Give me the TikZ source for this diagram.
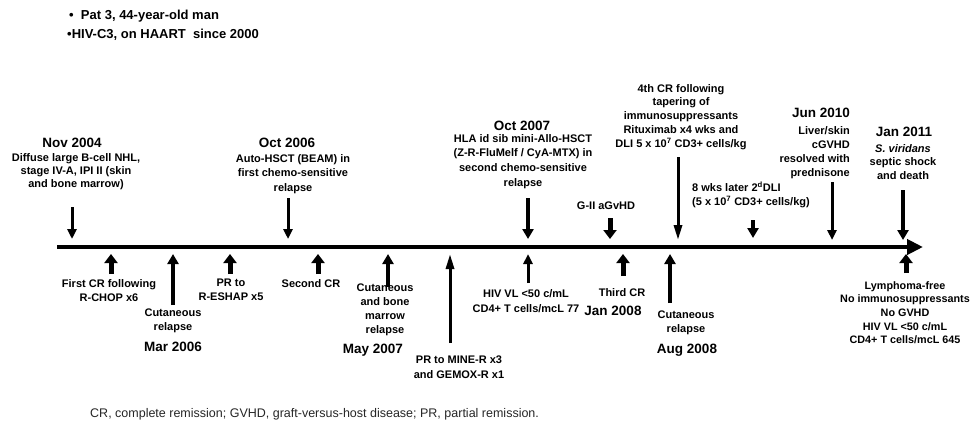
\documentclass[tikz,border=0pt]{standalone}
\usepackage{fontspec}
\setmainfont{Liberation Sans}
\usetikzlibrary{arrows.meta}
\begin{document}
\begin{tikzpicture}[x=1pt,y=-1pt,
  lab/.style={font=\bfseries\fontsize{11}{#1}\selectfont,align=center,inner sep=0pt,anchor=north},
  lab/.default=14,
  single/.style={font=\bfseries\fontsize{11}{13}\selectfont,inner sep=0pt,anchor=base},
  datelab/.style={font=\bfseries\fontsize{13.5}{16}\selectfont,inner sep=0pt,anchor=base},
  toptext/.style={font=\bfseries\fontsize{13}{15}\selectfont,inner sep=0pt,anchor=base west},
  foot/.style={font=\fontsize{12.5}{15}\selectfont,text=black!85,inner sep=0pt,anchor=base west},
  timeline/.style={line width=4pt,-{Triangle[width=15pt,length=16pt]}},
  arrA/.style={line width=3pt,-{Triangle[width=9pt,length=10pt]}},
  arrB/.style={line width=5pt,-{Triangle[width=13pt,length=9pt]}},
  arrC/.style={line width=4pt,-{Triangle[width=11pt,length=10pt]}},
  arrL/.style={line width=3pt,-{Triangle[width=8pt,length=15pt]}}
]
\useasboundingbox (0,0) rectangle (973,424);

% header
\node[toptext] (h1) at (69,19) {\textbullet\ \ Pat 3, 44-year-old man};
\node[toptext] (h2) at (67,38) {\textbullet HIV-C3, on HAART\ \ since 2000};

% timeline
\coordinate (tl0) at (57,247);
\coordinate (tl1) at (923,247);
\draw[timeline] (tl0) -- (tl1);

% ---------- events above the line ----------
\node[datelab] (nov04) at (72,147) {Nov 2004};
\node[lab=13] (nov04t) at (76,153) {Diffuse large B-cell NHL,\\stage IV-A, IPI II (skin\\and bone marrow)};
\coordinate (d1s) at (72,207); \coordinate (d1e) at (72,239);
\draw[arrA] (d1s) -- (d1e);

\node[datelab] (oct06) at (287,147) {Oct 2006};
\node[lab=14.5] (oct06t) at (293,154) {Auto-HSCT (BEAM) in\\first chemo-sensitive\\relapse};
\coordinate (d2s) at (288,198); \coordinate (d2e) at (288,239);
\draw[arrA] (d2s) -- (d2e);

\node[datelab] (oct07) at (522,130) {Oct 2007};
\node[lab=14.7] (oct07t) at (523,134) {HLA id sib mini-Allo-HSCT\\(Z-R-FluMelf / CyA-MTX) in\\second chemo-sensitive\\relapse};
\coordinate (d3s) at (528,198); \coordinate (d3e) at (528,239);
\draw[arrC] (d3s) -- (d3e);

\node[single] (gvhd) at (606,209) {G-II aGvHD};
\coordinate (d4s) at (610,218); \coordinate (d4e) at (610,239);
\draw[arrB] (d4s) -- (d4e);

\node[lab=13.75] (cr4) at (681,84) {4th CR following\\tapering of\\immunosuppressants\\Rituximab x4 wks and\\DLI 5 x 10\textsuperscript{7} CD3+ cells/kg};
\coordinate (d5s) at (678,157); \coordinate (d5e) at (678,240);
\draw[arrL] (d5s) -- (d5e);

\node[lab=14,align=left,anchor=north west] (dli2) at (692,182) {8 wks later 2\textsuperscript{d}DLI\\(5 x 10\textsuperscript{7} CD3+ cells/kg)};
\coordinate (d6s) at (753,220); \coordinate (d6e) at (753,238);
\draw[arrC] (d6s) -- (d6e);

\node[datelab,anchor=base east] (jun10) at (850,117) {Jun 2010};
\node[lab=14,align=right,anchor=north east] (jun10t) at (850,126) {Liver/skin\\cGVHD\\resolved with\\prednisone};
\coordinate (d7s) at (832,182); \coordinate (d7e) at (832,240);
\draw[arrA] (d7s) -- (d7e);

\node[datelab] (jan11) at (904,136) {Jan 2011};
\node[lab=13.5] (jan11t) at (903,144) {\textit{S. viridans}\\septic shock\\and death};
\coordinate (d8s) at (903,190); \coordinate (d8e) at (903,240);
\draw[arrC] (d8s) -- (d8e);

% ---------- events below the line ----------
\node[lab=14] (cr1) at (109,279) {First CR following\\R-CHOP x6};
\coordinate (u1s) at (111,274); \coordinate (u1e) at (111,254);
\draw[arrB] (u1s) -- (u1e);

\node[lab=14] (rel1) at (173,309) {Cutaneous\\relapse};
\node[datelab] (mar06) at (173,351) {Mar 2006};
\coordinate (u2s) at (173,305); \coordinate (u2e) at (173,254);
\draw[arrC] (u2s) -- (u2e);

\node[lab=14] (pr1) at (231,279) {PR to\\R-ESHAP x5};
\coordinate (u3s) at (230,274); \coordinate (u3e) at (230,254);
\draw[arrB] (u3s) -- (u3e);

\node[single] (cr2) at (311,287) {Second CR};
\coordinate (u4s) at (318,274); \coordinate (u4e) at (318,254);
\draw[arrB] (u4s) -- (u4e);

\coordinate (u5s) at (388,287); \coordinate (u5e) at (388,254);
\draw[arrC] (u5s) -- (u5e);
\node[lab=14] (rel2) at (385,284) {Cutaneous\\and bone\\marrow\\relapse};
\node[datelab] (may07) at (373,353) {May 2007};

\node[lab=15] (pr2) at (459,356) {PR to MINE-R x3\\and GEMOX-R x1};
\coordinate (u6s) at (450,343); \coordinate (u6e) at (450,254);
\draw[arrL] (u6s) -- (u6e);

\node[lab=15] (hiv1) at (526,289) {HIV VL <50 c/mL\\CD4+ T cells/mcL 77};
\coordinate (u7s) at (528,283); \coordinate (u7e) at (528,254);
\draw[arrA] (u7s) -- (u7e);

\node[single] (cr3) at (622,296) {Third CR};
\node[datelab] (jan08) at (613,315) {Jan 2008};
\coordinate (u8s) at (623,276); \coordinate (u8e) at (623,254);
\draw[arrB] (u8s) -- (u8e);

\node[lab=14] (rel3) at (686,311) {Cutaneous\\relapse};
\node[datelab] (aug08) at (687,353) {Aug 2008};
\coordinate (u9s) at (670,303); \coordinate (u9e) at (670,254);
\draw[arrC] (u9s) -- (u9e);

\node[lab=13.7,font=\bfseries\fontsize{10.8}{13.7}\selectfont] (free) at (905,281) {Lymphoma-free\\No immunosuppressants\\No GVHD\\HIV VL <50 c/mL\\CD4+ T cells/mcL 645};
\coordinate (u10s) at (906,273); \coordinate (u10e) at (906,254);
\draw[arrB] (u10s) -- (u10e);

% footer
\node[foot] (legend) at (90,417) {CR, complete remission; GVHD, graft-versus-host disease; PR, partial remission.};
\end{tikzpicture}
\end{document}
